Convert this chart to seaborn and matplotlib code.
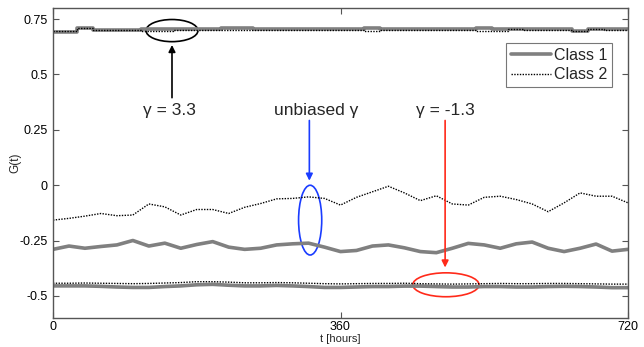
import numpy as np
import pandas as pd
import matplotlib
matplotlib.use("Agg")
import matplotlib.pyplot as plt
import seaborn as sns
from matplotlib.patches import Ellipse

# ---- data ----
hours = [0, 20, 40, 60, 80, 100, 120, 140, 160, 180, 200, 220, 240, 260, 280, 300, 320, 340, 360,
         380, 400, 420, 440, 460, 480, 500, 520, 540, 560, 580, 600, 620, 640, 660, 680, 700, 720]

# gamma = 3.3
class1_g33 = [0.690, 0.690, 0.710, 0.700, 0.700, 0.700, 0.705, 0.705, 0.703, 0.703, 0.703, 0.708, 0.708,
              0.703, 0.703, 0.703, 0.703, 0.703, 0.703, 0.703, 0.709, 0.703, 0.707, 0.707, 0.703, 0.703,
              0.703, 0.709, 0.703, 0.706, 0.703, 0.703, 0.703, 0.698, 0.707, 0.703, 0.703]
class2_g33 = [0.695, 0.695, 0.708, 0.700, 0.701, 0.701, 0.694, 0.694, 0.702, 0.702, 0.702, 0.702, 0.702,
              0.702, 0.701, 0.701, 0.701, 0.702, 0.702, 0.701, 0.698, 0.702, 0.701, 0.701, 0.702, 0.702,
              0.702, 0.695, 0.695, 0.703, 0.702, 0.701, 0.701, 0.698, 0.703, 0.702, 0.702]

# unbiased gamma
class1_unb = [-0.290, -0.275, -0.285, -0.277, -0.270, -0.250, -0.275, -0.262, -0.285, -0.268, -0.255,
              -0.280, -0.290, -0.285, -0.270, -0.265, -0.262, -0.280, -0.300, -0.295, -0.275, -0.270,
              -0.283, -0.300, -0.305, -0.285, -0.263, -0.270, -0.285, -0.265, -0.257, -0.285, -0.300,
              -0.285, -0.266, -0.298, -0.290]
class2_unb = [-0.158, -0.150, -0.140, -0.128, -0.138, -0.135, -0.085, -0.098, -0.135, -0.110, -0.110,
              -0.128, -0.100, -0.083, -0.062, -0.060, -0.053, -0.060, -0.090, -0.055, -0.030, -0.005,
              -0.035, -0.070, -0.048, -0.085, -0.090, -0.055, -0.050, -0.065, -0.085, -0.120, -0.080,
              -0.035, -0.050, -0.050, -0.080]

# gamma = -1.3
class1_gm13 = [-0.455, -0.455, -0.455, -0.457, -0.460, -0.462, -0.462, -0.458, -0.455, -0.450, -0.448,
               -0.452, -0.455, -0.455, -0.453, -0.455, -0.458, -0.462, -0.462, -0.460, -0.458, -0.458,
               -0.456, -0.456, -0.458, -0.460, -0.460, -0.458, -0.458, -0.460, -0.460, -0.458, -0.457,
               -0.458, -0.460, -0.463, -0.463]
class2_gm13 = [-0.443, -0.443, -0.442, -0.443, -0.444, -0.445, -0.444, -0.442, -0.440, -0.436, -0.436,
               -0.438, -0.441, -0.441, -0.440, -0.441, -0.443, -0.445, -0.446, -0.445, -0.444, -0.444,
               -0.443, -0.445, -0.446, -0.447, -0.446, -0.445, -0.444, -0.445, -0.445, -0.444, -0.444,
               -0.445, -0.446, -0.447, -0.447]

yticks = [0.75, 0.5, 0.25, 0, -0.25, -0.5]
ytick_labels = ["0.75", "0.5", "0.25", "0", "-0.25", "-0.5"]
xticks = [0, 360, 720]
xtick_labels = ["0", "360", "720"]

# ---- build long table ----
rows = []
for series, cls, vals in [("g33", "Class 1", class1_g33), ("g33", "Class 2", class2_g33),
                          ("unb", "Class 1", class1_unb), ("unb", "Class 2", class2_unb),
                          ("gm13", "Class 1", class1_gm13), ("gm13", "Class 2", class2_gm13)]:
    for h, v in zip(hours, vals):
        rows.append({"t": h, "G": v, "Class": cls, "case": series})
df = pd.DataFrame(rows)

sns.set_style("ticks")
plt.rcParams["font.family"] = ["Liberation Sans", "DejaVu Sans"]

fig = plt.figure(figsize=(6.44, 3.47), dpi=100)
ax = fig.add_axes([53 / 644, 1 - 318 / 347, 575 / 644, 310 / 347])

styles = {"Class 1": dict(color="#808080", lw=2.6, ls="-"),
          "Class 2": dict(color="black", lw=1.0, ls=(0, (1, 1)))}

for case in ["g33", "unb", "gm13"]:
    for cls in ["Class 1", "Class 2"]:
        sub = df[(df["case"] == case) & (df["Class"] == cls)]
        st = styles[cls]
        kw = dict(drawstyle="steps-mid") if case == "g33" else {}
        sns.lineplot(data=sub, x="t", y="G", ax=ax, color=st["color"], linewidth=st["lw"],
                     linestyle=st["ls"], label=cls if case == "g33" else None, legend=False, **kw)

ax.set_xlim(0, 720)
ax.set_ylim(-0.6, 0.8)
ax.set_xticks(xticks)
ax.set_xticklabels(xtick_labels)
ax.set_yticks(yticks)
ax.set_yticklabels(ytick_labels)
ax.tick_params(direction="in", length=4, width=0.8, labelsize=9, top=True, right=True,
               colors="#555555", labelcolor="black", pad=4)
ax.tick_params(axis="x", pad=2.5)
for sp in ax.spines.values():
    sp.set_visible(True)
    sp.set_color("#555555")
    sp.set_linewidth(1.0)
ax.set_xlabel("t [hours]", fontsize=8)
ax.set_ylabel("G(t)", fontsize=8.5)
ax.xaxis.set_label_coords(0.5, -0.053)
ax.yaxis.set_label_coords(-0.055, 0.5)

leg = ax.legend(loc="upper right", bbox_to_anchor=(0.972, 0.888), fontsize=11.5, frameon=True,
                fancybox=False, handlelength=2.5, handletextpad=0.2, borderpad=0.3,
                labelspacing=0.3, borderaxespad=0)
leg.get_frame().set_edgecolor("#555555")
leg.get_frame().set_linewidth(0.8)

# ---- annotations ----
ax.add_patch(Ellipse((149, 0.698), 65, 0.10, fill=False, edgecolor="black", lw=1.2))
ax.add_patch(Ellipse((322, -0.158), 29, 0.315, fill=False, edgecolor="#1a3cff", lw=1.2))
ax.add_patch(Ellipse((492, -0.45), 83, 0.108, fill=False, edgecolor="#ff2a1a", lw=1.2))

ax.annotate("", xy=(149, 0.633), xytext=(149, 0.395),
            arrowprops=dict(arrowstyle="-|>", color="black", lw=1.2, mutation_scale=10, shrinkA=0, shrinkB=0))
ax.annotate("", xy=(321, 0.02), xytext=(321, 0.292),
            arrowprops=dict(arrowstyle="-|>", color="#1a3cff", lw=1.2, mutation_scale=10, shrinkA=0, shrinkB=0))
ax.annotate("", xy=(491, -0.372), xytext=(491, 0.292),
            arrowprops=dict(arrowstyle="-|>", color="#ff2a1a", lw=1.2, mutation_scale=10, shrinkA=0, shrinkB=0))

ax.text(146, 0.338, "γ = 3.3", ha="center", va="center", fontsize=12.5)
ax.text(329, 0.338, "unbiased γ", ha="center", va="center", fontsize=12.5)
ax.text(491, 0.338, "γ = -1.3", ha="center", va="center", fontsize=12.5)

fig.savefig("out.png", dpi=100)
